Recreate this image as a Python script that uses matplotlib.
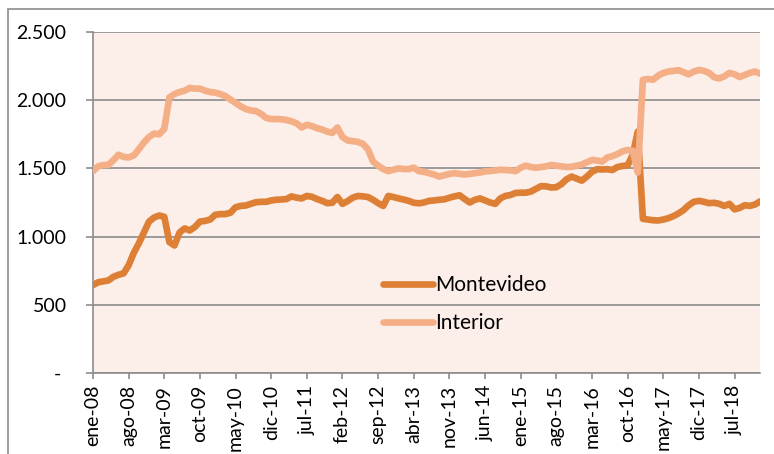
import numpy as np
import matplotlib
matplotlib.use("Agg")
import matplotlib.pyplot as plt
from matplotlib.patches import Rectangle

plt.rcParams['font.family'] = ['Lato', 'DejaVu Sans']

# Meses: ene-08 ... dic-18 (132 puntos)
meses_abrev = ['ene', 'feb', 'mar', 'abr', 'may', 'jun',
               'jul', 'ago', 'sep', 'oct', 'nov', 'dic']
anios = ['08', '09', '10', '11', '12', '13', '14', '15', '16', '17', '18']
etiquetas = [m + '-' + a for a in anios for m in meses_abrev]

montevideo = [
    645, 665, 672, 678, 705, 720, 730, 790, 880, 950, 1030, 1110,
    1140, 1155, 1145, 960, 935, 1030, 1060, 1045, 1070, 1110, 1115, 1125,
    1160, 1165, 1165, 1175, 1215, 1225, 1228, 1240, 1252, 1255, 1255, 1265,
    1270, 1272, 1275, 1295, 1285, 1280, 1298, 1292, 1275, 1262, 1245, 1248,
    1290, 1240, 1260, 1285, 1298, 1295, 1290, 1270, 1245, 1225, 1298, 1290,
    1280, 1272, 1262, 1248, 1244, 1250, 1262, 1265, 1270, 1273, 1285, 1295,
    1303, 1275, 1250, 1270, 1280, 1265, 1250, 1240, 1280, 1298, 1305, 1320,
    1322, 1322, 1330, 1350, 1370, 1368, 1360, 1362, 1385, 1420, 1440, 1425,
    1410, 1440, 1475, 1494, 1492, 1494, 1488, 1510, 1518, 1522, 1600, 1770,
    1130, 1125, 1120, 1118, 1125, 1135, 1150, 1170, 1195, 1230, 1255, 1262,
    1255, 1245, 1248, 1240, 1225, 1240, 1200, 1210, 1230, 1225, 1235, 1258,
]

interior = [
    1480, 1515, 1525, 1525, 1560, 1600, 1585, 1580, 1595, 1640, 1690, 1730,
    1755, 1750, 1790, 2020, 2045, 2060, 2070, 2090, 2085, 2085, 2070, 2060,
    2055, 2045, 2030, 2005, 1980, 1955, 1935, 1925, 1920, 1900, 1870, 1862,
    1862, 1860, 1855, 1845, 1830, 1800, 1820, 1810, 1795, 1785, 1770, 1760,
    1800, 1730, 1705, 1700, 1695, 1680, 1640, 1550, 1520, 1495, 1480, 1490,
    1500, 1495, 1495, 1505, 1480, 1475, 1465, 1455, 1440, 1450, 1460, 1465,
    1460, 1455, 1460, 1465, 1470, 1478, 1480, 1485, 1490, 1488, 1485, 1480,
    1505, 1520, 1510, 1505, 1510, 1515, 1525, 1520, 1515, 1510, 1512, 1520,
    1528, 1545, 1562, 1558, 1550, 1580, 1590, 1605, 1625, 1635, 1630, 1470,
    2150, 2155, 2150, 2180, 2200, 2210, 2215, 2220, 2205, 2190, 2210, 2222,
    2215, 2200, 2168, 2160, 2175, 2200, 2190, 2170, 2185, 2200, 2210, 2195,
]

y_ticks = [0, 500, 1000, 1500, 2000, 2500]
y_labels = ['- ', '500', '1.000', '1.500', '2.000', '2.500']

color_mvd = '#DD8036'
color_int = '#F5AF86'
fondo = '#FCEEE9'
gris = '#8C8C8C'

fig = plt.figure(figsize=(7.74, 4.54), dpi=100)
ax = fig.add_axes([93 / 774, 1 - 373 / 454, (760 - 93) / 774, (373 - 32) / 454])

# marco exterior del gráfico
fig.patches.append(Rectangle((7.5 / 774, -0.1), 1.2, 1 - 9.5 / 454 + 0.1,
                             transform=fig.transFigure, fill=False,
                             edgecolor=gris, linewidth=1.2, zorder=0))

x = np.arange(len(etiquetas))
ax.set_facecolor(fondo)
ax.plot(x, montevideo, color=color_mvd, linewidth=4.8, label='Montevideo',
        solid_capstyle='round', solid_joinstyle='round', zorder=3)
ax.plot(x, interior, color=color_int, linewidth=4.8, label='Interior',
        solid_capstyle='round', solid_joinstyle='round', zorder=3)

ax.set_xlim(0, len(etiquetas) - 1)
ax.set_ylim(0, 2500)
ax.set_yticks(y_ticks)
ax.set_yticklabels(y_labels)
ax.set_xticks(x[::7])
ax.set_xticklabels(etiquetas[::7], rotation=90)

ax.grid(axis='y', color=gris, linewidth=1.2, zorder=1)
ax.set_axisbelow(True)
for s in ['top', 'right']:
    ax.spines[s].set_visible(False)
for s in ['left', 'bottom']:
    ax.spines[s].set_color(gris)
    ax.spines[s].set_linewidth(1.2)

ax.tick_params(axis='y', length=5, color=gris, width=1.2, pad=14, labelsize=14)
ax.tick_params(axis='x', length=4.5, color=gris, width=1.2, pad=4, labelsize=14)

leg = ax.legend(loc='upper left', bbox_to_anchor=(383 / 774, 1 - 275 / 454),
                bbox_transform=fig.transFigure, frameon=False, fontsize=15,
                handlelength=2.4, handletextpad=0.08, labelspacing=0.87,
                borderpad=0, borderaxespad=0)

fig.savefig('out.png', dpi=100)
